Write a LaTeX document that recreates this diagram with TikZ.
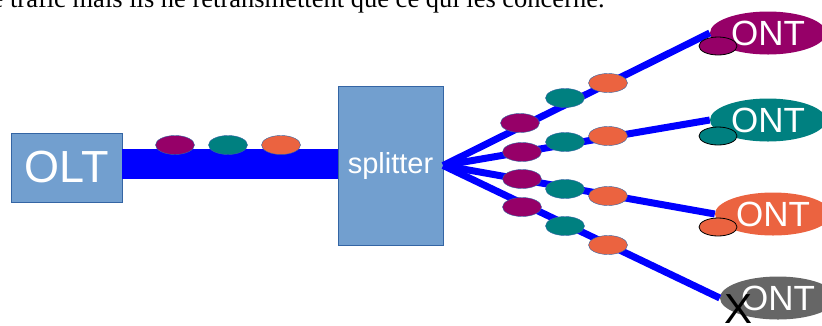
\documentclass[tikz,border=0pt]{standalone}
\usepackage{fontspec}
\setmainfont{Liberation Serif}
\setsansfont{Liberation Sans}
\usepackage{tikz}
\usetikzlibrary{shapes.geometric}
\definecolor{pktpurple}{RGB}{150,0,104}
\definecolor{pktteal}{RGB}{0,128,128}
\definecolor{pktorange}{RGB}{235,99,64}
\definecolor{ontgrey}{RGB}{102,102,102}
\definecolor{boxfill}{RGB}{114,159,207}
\definecolor{boxline}{RGB}{52,101,164}

\begin{document}
\begin{tikzpicture}[x=1pt, y=-1pt,
    box/.style={draw=boxline, fill=boxfill, inner sep=0pt, text=white},
    pkt/.style={ellipse, draw=boxline, line width=0.4pt, minimum width=39pt, minimum height=19pt, inner sep=0pt},
    ont/.style={ellipse, minimum width=116pt, minimum height=43pt, inner sep=0pt, text=white, font=\sffamily\fontsize{35}{35}\selectfont},
    rx/.style={ellipse, draw=black, line width=0.8pt, minimum width=38pt, minimum height=18pt, inner sep=0pt},
    fibre/.style={blue, line width=7pt}]
        \useasboundingbox (0,0) rectangle (822,325);
        \node[anchor=base west, inner sep=0pt, font=\fontsize{26.5}{30}\selectfont] (caption) at (-8.5, 7) {e trafic mais ils ne retransmettent que ce qui les concerne.};
        % OLT, trunk and splitter
        \node[box, minimum width=111pt, minimum height=69pt, font=\sffamily\fontsize{45}{45}\selectfont] (olt) at (66.5, 167.5) {OLT};
        \node[box, minimum width=105pt, minimum height=159pt, font=\sffamily\fontsize{29}{29}\selectfont] (splitter) at (390.5, 165.5) {splitter};
        \coordinate (trunk) at (0, 164);
        \draw[blue, line width=30pt] (olt.east |- trunk) -- (splitter.west |- trunk);
        \node[pkt, fill=pktpurple] (t1) at (175, 145) {};
        \node[pkt, fill=pktteal] (t2) at (228, 145) {};
        \node[pkt, fill=pktorange] (t3) at (281, 145) {};
        % ONTs
        \node[ont, fill=pktpurple] (ont1) at (768, 33) {ONT};
        \node[ont, fill=pktteal] (ont2) at (768, 120) {ONT};
        \node[ont, fill=pktorange] (ont3) at (773, 214) {ONT};
        \node[ont, fill=ontgrey] (ont4) at (778, 298) {ONT};
        \draw[fibre] (splitter.east) -- (ont1.west);
        \draw[fibre] (splitter.east) -- (ont2.west);
        \draw[fibre] (splitter.east) -- (ont3.west);
        \draw[fibre] (splitter.east) -- (ont4.west);
        % packets on the branches
        \node[pkt, fill=pktpurple] (a1) at (520, 123) {};
        \node[pkt, fill=pktteal] (a2) at (565, 98) {};
        \node[pkt, fill=pktorange] (a3) at (608, 83) {};
        \node[pkt, fill=pktpurple] (b1) at (522, 152) {};
        \node[pkt, fill=pktteal] (b2) at (565, 142) {};
        \node[pkt, fill=pktorange] (b3) at (608, 136) {};
        \node[pkt, fill=pktpurple] (c1) at (522, 179) {};
        \node[pkt, fill=pktteal] (c2) at (565, 189) {};
        \node[pkt, fill=pktorange] (c3) at (608, 196) {};
        \node[pkt, fill=pktpurple] (d1) at (522, 207) {};
        \node[pkt, fill=pktteal] (d2) at (565, 226) {};
        \node[pkt, fill=pktorange] (d3) at (608, 245) {};
        % received packets
        \node[rx, fill=pktpurple] (rx1) at (718, 46) {};
        \node[rx, fill=pktteal] (rx2) at (718, 136) {};
        \node[rx, fill=pktorange] (rx3) at (718, 227) {};
        \node[inner sep=0pt, font=\sffamily\fontsize{42}{42}\selectfont] (lost) at (738, 309) {X};
      \end{tikzpicture}
\end{document}
